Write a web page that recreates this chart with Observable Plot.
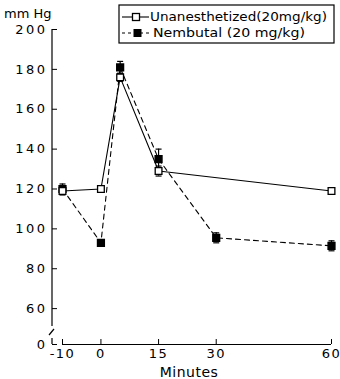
<!DOCTYPE html>
<html><head><meta charset="utf-8">
<script src="https://cdn.jsdelivr.net/npm/d3@7"></script>
<script src="https://cdn.jsdelivr.net/npm/@observablehq/plot@0.6"></script>
<style>
body{margin:0;background:#fff}
#chart{position:relative;width:340px;height:379px}
svg{font-family:"DejaVu Sans",sans-serif}
g[aria-label="y-axis tick label"] text{letter-spacing:2.5px}
g[aria-label="x-axis tick label"] text{letter-spacing:1.5px}
</style></head><body><div id="chart"></div>
<script>
// data
const unanesMinutes = [-10, 0, 5, 15, 60];
const unanesValues = [119, 120, 176, 129, 119];
const unanesErr = [2, 1, 2, 2.5, 1.5];
const nembMinutes = [-10, 0, 5, 15, 30, 60];
const nembValues = [120, 93, 181, 135, 95.5, 91.5];
const nembErr = [2.5, 1, 3, 5, 2.5, 2.5];
const xTicks = [-10, 0, 15, 30, 60];
const yTicks = [60, 80, 100, 120, 140, 160, 180, 200];
const yZeroLabel = "0";          // label drawn below the axis break
const yBreakFloor = 42;          // axis bottom (shown as 0 after the break)
const seriesNames = ["Unanesthetized(20mg/kg)", "Nembutal (20 mg/kg)"];
const yUnit = "mm Hg";
const xTitle = "Minutes";

const unanes = unanesMinutes.map((m, i) => ({m, v: unanesValues[i], e: unanesErr[i]}));
const nemb = nembMinutes.map((m, i) => ({m, v: nembValues[i], e: nembErr[i]}));
const allYTicks = [yBreakFloor, ...yTicks];

const cap = {draw(ctx) { ctx.moveTo(-3, 0); ctx.lineTo(3, 0); }};

const chart = Plot.plot({
  width: 340, height: 379,
  marginLeft: 52, marginRight: 8, marginTop: 29, marginBottom: 35,
  style: {fontFamily: '"DejaVu Sans", sans-serif', fontSize: "13px", color: "#000", background: "#fff"},
  x: {domain: [-10, 60], range: [62, 331]},
  y: {domain: [yBreakFloor, 200], range: [344, 29]},
  marks: [
    Plot.axisY(allYTicks, {anchor: "left", tickSize: -5, tickPadding: 10, fontSize: 13, label: null, stroke: "#000",
      tickFormat: d => d === yBreakFloor ? yZeroLabel : String(d)}),
    Plot.axisX(xTicks, {anchor: "bottom", tickSize: -5, tickPadding: 9, fontSize: 13, label: null, stroke: "#000",
      tickFormat: d => String(d).replace("−", "-")}),
    Plot.ruleY([yBreakFloor], {x1: d3.min(xTicks), x2: d3.max(xTicks), stroke: "#000", strokeWidth: 1.2}),
    Plot.line(nemb, {x: "m", y: "v", stroke: "#000", strokeWidth: 1.1, strokeDasharray: "5,4"}),
    Plot.line(unanes, {x: "m", y: "v", stroke: "#000", strokeWidth: 1.1}),
    Plot.ruleX(nemb, {x: "m", y1: d => d.v - d.e, y2: d => d.v + d.e, stroke: "#000", strokeWidth: 1.2}),
    Plot.dot(nemb, {x: "m", y: d => d.v + d.e, symbol: cap, stroke: "#000", strokeWidth: 1.2}),
    Plot.dot(nemb, {x: "m", y: d => d.v - d.e, symbol: cap, stroke: "#000", strokeWidth: 1.2}),
    Plot.ruleX(unanes, {x: "m", y1: d => d.v - d.e, y2: d => d.v + d.e, stroke: "#000", strokeWidth: 1.2}),
    Plot.dot(unanes, {x: "m", y: d => d.v + d.e, symbol: cap, stroke: "#000", strokeWidth: 1.2}),
    Plot.dot(unanes, {x: "m", y: d => d.v - d.e, symbol: cap, stroke: "#000", strokeWidth: 1.2}),
    Plot.dot(nemb, {x: "m", y: "v", symbol: "square", r: 3.8, fill: "#000", stroke: "#000"}),
    Plot.dot(unanes, {x: "m", y: "v", symbol: "square", r: 3.8, fill: "#fff", stroke: "#000", strokeWidth: 1.3})
  ]
});
document.getElementById("chart").appendChild(chart);

// axis line with break, titles and legend
const svg = d3.select(chart);
const ys = chart.scale("y");
const ax = 52;
const yb = ys.apply(yBreakFloor);
const g = svg.append("g").attr("stroke", "#000").attr("stroke-width", 1.2).attr("fill", "none");
g.append("line").attr("x1", ax).attr("x2", ax).attr("y1", ys.apply(200)).attr("y2", yb - 18);
g.append("line").attr("x1", ax - 3).attr("x2", ax + 2).attr("y1", yb - 9).attr("y2", yb - 15);
g.append("line").attr("x1", ax).attr("x2", ax).attr("y1", yb - 6).attr("y2", yb);

svg.append("text").attr("x", 4).attr("y", 13).attr("dy", "0.35em").attr("text-anchor", "start").attr("font-size", 13).attr("fill", "#000").text(yUnit);
svg.append("text").attr("x", 189).attr("y", 372).attr("dy", "0.35em").attr("text-anchor", "middle").attr("font-size", 14).attr("letter-spacing", "0.5px").attr("fill", "#000").text(xTitle);

const lg = svg.append("g").attr("text-anchor", "start");
lg.append("rect").attr("x", 119).attr("y", 5).attr("width", 215).attr("height", 38).attr("fill", "#fff").attr("stroke", "#000").attr("stroke-width", 1.2);
// row 1
lg.append("line").attr("x1", 122).attr("x2", 149).attr("y1", 17).attr("y2", 17).attr("stroke", "#000").attr("stroke-width", 1.1);
lg.append("rect").attr("x", 132.5).attr("y", 13.5).attr("width", 7).attr("height", 7).attr("fill", "#fff").attr("stroke", "#000").attr("stroke-width", 1.3);
lg.append("text").attr("x", 150).attr("y", 17).attr("dy", "0.35em").attr("font-size", 12.5).attr("textLength", 177).attr("lengthAdjust", "spacingAndGlyphs").attr("fill", "#000").text(seriesNames[0]);
// row 2
lg.append("line").attr("x1", 122).attr("x2", 149).attr("y1", 33).attr("y2", 33).attr("stroke", "#000").attr("stroke-width", 1.1).attr("stroke-dasharray", "3,3");
lg.append("rect").attr("x", 134).attr("y", 29.5).attr("width", 7).attr("height", 7).attr("fill", "#000").attr("stroke", "#000");
lg.append("text").attr("x", 153).attr("y", 33).attr("dy", "0.35em").attr("font-size", 12.5).attr("textLength", 152).attr("lengthAdjust", "spacingAndGlyphs").attr("fill", "#000").text(seriesNames[1]);
</script></body></html>
